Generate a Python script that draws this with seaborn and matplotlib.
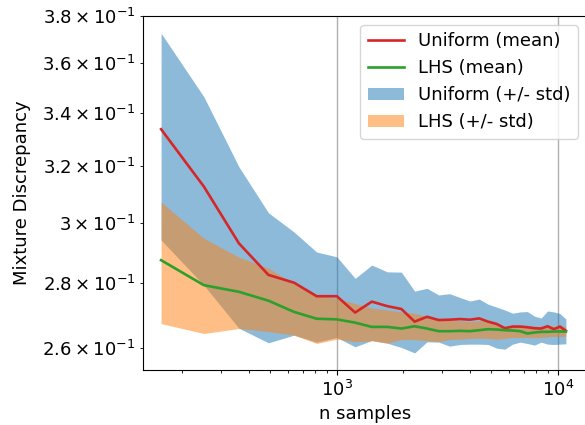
import matplotlib
matplotlib.use("Agg")
import matplotlib.pyplot as plt
import seaborn as sns
import pandas as pd

n_samples = [160, 250, 360, 490, 640, 810, 1000, 1210, 1440, 1690, 1960, 2250,
             2560, 2890, 3240, 3610, 4000, 4410, 4840, 5290, 5760, 6250, 6760,
             7290, 7840, 8410, 9000, 9610, 10240, 10890]

uniform_mean = [0.3339, 0.3127, 0.2931, 0.2827, 0.2802, 0.2759, 0.2759, 0.2708,
                0.2742, 0.2728, 0.2719, 0.2680, 0.2695, 0.2685, 0.2686, 0.2688,
                0.2686, 0.2690, 0.2680, 0.2673, 0.2660, 0.2665, 0.2665, 0.2663,
                0.2660, 0.2659, 0.2666, 0.2657, 0.2665, 0.2652]
lhs_mean = [0.2875, 0.2794, 0.2773, 0.2745, 0.2710, 0.2689, 0.2687, 0.2677,
            0.2664, 0.2664, 0.2659, 0.2666, 0.2659, 0.2651, 0.2651, 0.2652,
            0.2651, 0.2654, 0.2657, 0.2656, 0.2654, 0.2653, 0.2651, 0.2644,
            0.2647, 0.2649, 0.2649, 0.2650, 0.2650, 0.2650]
uniform_upper = [0.3726, 0.3465, 0.3199, 0.3035, 0.2969, 0.2902, 0.2886, 0.2816,
                 0.2859, 0.2837, 0.2836, 0.2775, 0.2784, 0.2763, 0.2767, 0.2755,
                 0.2744, 0.2750, 0.2734, 0.2725, 0.2716, 0.2706, 0.2710, 0.2711,
                 0.2697, 0.2691, 0.2713, 0.2710, 0.2705, 0.2688]
uniform_lower = [0.2942, 0.2794, 0.2660, 0.2616, 0.2639, 0.2618, 0.2632, 0.2604,
                 0.2623, 0.2615, 0.2602, 0.2586, 0.2619, 0.2618, 0.2606, 0.2611,
                 0.2612, 0.2612, 0.2611, 0.2600, 0.2597, 0.2612, 0.2618, 0.2614,
                 0.2609, 0.2618, 0.2612, 0.2611, 0.2612, 0.2613]
lhs_upper = [0.3072, 0.2948, 0.2885, 0.2849, 0.2798, 0.2763, 0.2752, 0.2736,
             0.2722, 0.2716, 0.2710, 0.2706, 0.2695, 0.2686, 0.2685, 0.2683,
             0.2680, 0.2683, 0.2683, 0.2675, 0.2666, 0.2669, 0.2670, 0.2666,
             0.2666, 0.2666, 0.2666, 0.2666, 0.2665, 0.2664]
lhs_lower = [0.2674, 0.2644, 0.2659, 0.2650, 0.2639, 0.2614, 0.2627, 0.2619,
             0.2622, 0.2615, 0.2626, 0.2626, 0.2622, 0.2620, 0.2626, 0.2627,
             0.2629, 0.2630, 0.2629, 0.2627, 0.2629, 0.2632, 0.2632, 0.2632,
             0.2631, 0.2632, 0.2634, 0.2635, 0.2635, 0.2636]

df = pd.DataFrame({
    "n": n_samples,
    "uniform_mean": uniform_mean,
    "lhs_mean": lhs_mean,
})

plt.rcParams["font.family"] = ["DejaVu Sans"]
plt.rcParams["font.size"] = 13

fig = plt.figure(figsize=(5.85, 4.25), dpi=100)
ax = fig.add_axes([143 / 585, 55 / 425, 444 / 585, 354 / 425])

sns.lineplot(data=df, x="n", y="uniform_mean", color="#d62728", lw=1.9,
             label="Uniform (mean)", ax=ax, zorder=3)
sns.lineplot(data=df, x="n", y="lhs_mean", color="#2ca02c", lw=1.9,
             label="LHS (mean)", ax=ax, zorder=3)
ax.fill_between(n_samples, uniform_lower, uniform_upper, color="#1f77b4",
                alpha=0.5, lw=0, label="Uniform (+/- std)")
ax.fill_between(n_samples, lhs_lower, lhs_upper, color="#ff7f0e",
                alpha=0.5, lw=0, label="LHS (+/- std)")

ax.set_xscale("log")
ax.set_yscale("log")
ax.set_xlim(132.5, 13570)
ax.set_ylim(0.2536, 0.38)
ax.grid(axis="x", which="major", color="#b0b0b0", lw=1.0)
ax.set_axisbelow(True)

ax.set_xlabel("n samples", fontsize=13)
ax.set_ylabel("Mixture Discrepancy", fontsize=13, labelpad=8)
ax.tick_params(labelsize=13)

h, l = ax.get_legend_handles_labels()
ax.legend(h, l, loc="upper right", fontsize=13)

fig.savefig("out.png", dpi=100)
